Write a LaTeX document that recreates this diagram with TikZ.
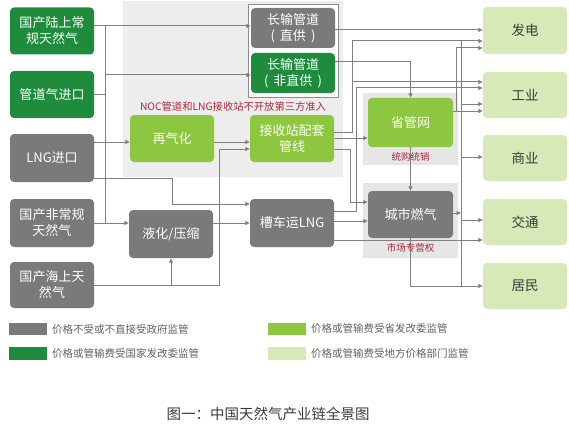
\documentclass[tikz,border=0pt]{standalone}
\usepackage{fontspec}
\setmainfont{Noto Sans CJK SC}
\usetikzlibrary{arrows.meta}
\definecolor{dg}{HTML}{1E8C3C}
\definecolor{gr}{HTML}{7A7A7A}
\definecolor{lg}{HTML}{8DC63F}
\definecolor{pg}{HTML}{D6E9B6}
\definecolor{bgg}{HTML}{EDEDED}
\definecolor{bgb}{HTML}{E6E6E6}
\definecolor{ln}{HTML}{808080}
\definecolor{rd}{HTML}{B0293A}
\definecolor{tx}{HTML}{3C3C3C}
\begin{document}
\begin{tikzpicture}[x=1pt,y=-1pt,
  box/.style={rounded corners=4pt, minimum width=84pt, inner sep=0pt, align=center,
    font=\fontsize{13}{16}\selectfont, text=white},
  dbox/.style={box, fill=dg},
  gbox/.style={box, fill=gr},
  lbox/.style={box, fill=lg},
  pbox/.style={box, fill=pg, text=tx, font=\fontsize{13.5}{16}\selectfont},
  conn/.style={draw=ln, line width=1pt, -{Triangle[length=4.5pt,width=4pt]}},
  plain/.style={draw=ln, line width=1pt},
  note/.style={text=rd, font=\fontsize{9.5}{11}\selectfont, inner sep=0pt},
  swatch/.style={minimum width=38pt, minimum height=12.5pt, inner sep=0pt},
  legtext/.style={anchor=west, text=tx!80, font=\fontsize{10.5}{12}\selectfont, inner sep=0pt}]
\useasboundingbox (0,0) rectangle (569,425);
\fill[white] (0,0) rectangle (569,425);
% backgrounds
\fill[bgg] (123,1) rectangle (343,177);
\fill[bgb] (363,93) rectangle (458,165);
\fill[bgb] (363,183) rectangle (458,258);
\draw[fill=white, draw=ln!90, line width=0.9pt] (248,4) rectangle (338,97);
% left column
\node[dbox, minimum height=47pt] (A1) at (52,31) {国产陆上常\\规天然气};
\node[dbox, minimum height=47pt] (A2) at (52,94.5) {管道气进口};
\node[gbox, minimum height=48pt] (A3) at (52,158) {LNG进口};
\node[gbox, minimum height=48pt] (A4) at (52,223) {国产非常规\\天然气};
\node[gbox, minimum height=46pt] (A5) at (52,285) {国产海上天\\然气};
% middle
\node[lbox, minimum height=47pt] (B1) at (172,138.5) {再气化};
\node[gbox, minimum height=48pt] (B2) at (171,234) {液化/压缩};
\node[gbox, minimum height=40pt] (C1) at (293,28) {长输管道\\(\hspace{5pt}直供\hspace{5pt})};
\node[dbox, minimum height=40pt] (C2) at (293,73) {长输管道\\(\hspace{5pt}非直供\hspace{5pt})};
\node[lbox, minimum height=47pt] (C3) at (292,138.5) {接收站配套\\管线};
\node[gbox, minimum height=48pt] (C4) at (292,223) {槽车运LNG};
\node[lbox, minimum height=49pt, minimum width=85pt] (D1) at (410.5,122.5) {省管网};
\node[gbox, minimum height=47pt, minimum width=85pt] (D2) at (410.5,214.5) {城市燃气};
% right column
\node[pbox, minimum height=47pt] (E1) at (525,30.5) {发电};
\node[pbox, minimum height=46pt] (E2) at (525,95) {工业};
\node[pbox, minimum height=46pt] (E3) at (525,158) {商业};
\node[pbox, minimum height=46pt] (E4) at (525,222) {交通};
\node[pbox, minimum height=46pt] (E5) at (525,286) {居民};
% notes
\node[note, font=\fontsize{10.3}{12}\selectfont] (N1) at (233,107) {NOC管道和LNG接收站不开放第三方准入};
\node[note] (N2) at (410.5,157) {统购统销};
% connectors
\coordinate (L1) at (105,26);
\coordinate (L2) at (105,223);
\draw[plain] (L1) -- (L2);
\draw[conn] (A1.east |- 0,26) -- (C1.west |- 0,26);
\draw[plain] (A2.east) -- (A2.east -| L1);
\draw[conn] (L1 |- 0,75) -- (C2.west |- 0,75);
\draw[conn] (A4.east |- 0,223) -- (B2.west |- 0,223);
\draw[conn] (A3.east |- 0,142) -- (B1.west |- 0,142);
\draw[conn] (A3.east |- 0,178) -| (172,204) -- (C4.west |- 0,204);
\draw[conn] (A5.east) -| (219,149) -- (C3.west |- 0,149);
\draw[conn] (B2.south |- 0,285) -- (B2.south);
\draw[conn] (B1.east |- 0,142) -- (C3.west |- 0,142);
\draw[conn] (B2.east |- 0,223) -- (C4.west |- 0,223);
\draw[conn] (C1.east |- 0,30) -- (E1.west |- 0,30);
\draw[conn] (C3.east |- 0,132) -| (352,41) -- (E1.west |- 0,41);
\draw[conn] (352,82) -- (E2.west |- 0,82);
\draw[conn] (C2.east |- 0,62) -| (D1.north);
\draw[conn] (C3.east |- 0,138) -- (D1.west |- 0,138);
\draw[conn] (C3.east |- 0,149) -| (350,202) -- (D2.west |- 0,202);
\draw[conn] (C4.east |- 0,211) -| (356,88) -- (E2.west |- 0,88);
\draw[conn] (C4.east |- 0,221) -- (D2.west |- 0,221);
\draw[conn] (C4.east |- 0,240) -- (E4.west |- 0,240);
\draw[conn] (D1.east |- 0,111) -- (E2.west |- 0,111);
\draw[conn] (456,111) -- (456,48) -- (E1.west |- 0,48);
\coordinate (R1) at (461,41);
\coordinate (R2) at (461,286);
\draw[plain] (R1) -- (R2);
\draw[conn] (R1 |- 0,104) -- (E2.west |- 0,104);
\draw[conn] (R1 |- 0,157) -- (E3.west |- 0,157);
\draw[conn] (R1 |- 0,220) -- (E4.west |- 0,220);
\draw[conn] (D2.east |- 0,213) -- (R1 |- 0,213);
\draw[conn] (D1.south) -- (D2.north);
\draw[conn] (D2.south) |- (E5.west |- 0,286);
\node[note] (N3) at (410.5,248) {市场专营权};
% legend
\node[swatch, fill=gr] (K1) at (28,329) {};
\node[legtext] (T1) at (52,329) {价格不受或不直接受政府监管};
\node[swatch, fill=dg] (K2) at (28,353.5) {};
\node[legtext] (T2) at (52,353.5) {价格或管输费受国家发改委监管};
\node[swatch, fill=lg] (K3) at (287,329) {};
\node[legtext] (T3) at (311,329) {价格或管输费受省发改委监管};
\node[swatch, fill=pg] (K4) at (287,353.5) {};
\node[legtext] (T4) at (311,353.5) {价格或管输费受地方价格部门监管};
% caption
\node[text=tx, font=\fontsize{14.5}{16}\selectfont, inner sep=0pt] (CAP) at (268,414) {图一：中国天然气产业链全景图};
\end{tikzpicture}
\end{document}
